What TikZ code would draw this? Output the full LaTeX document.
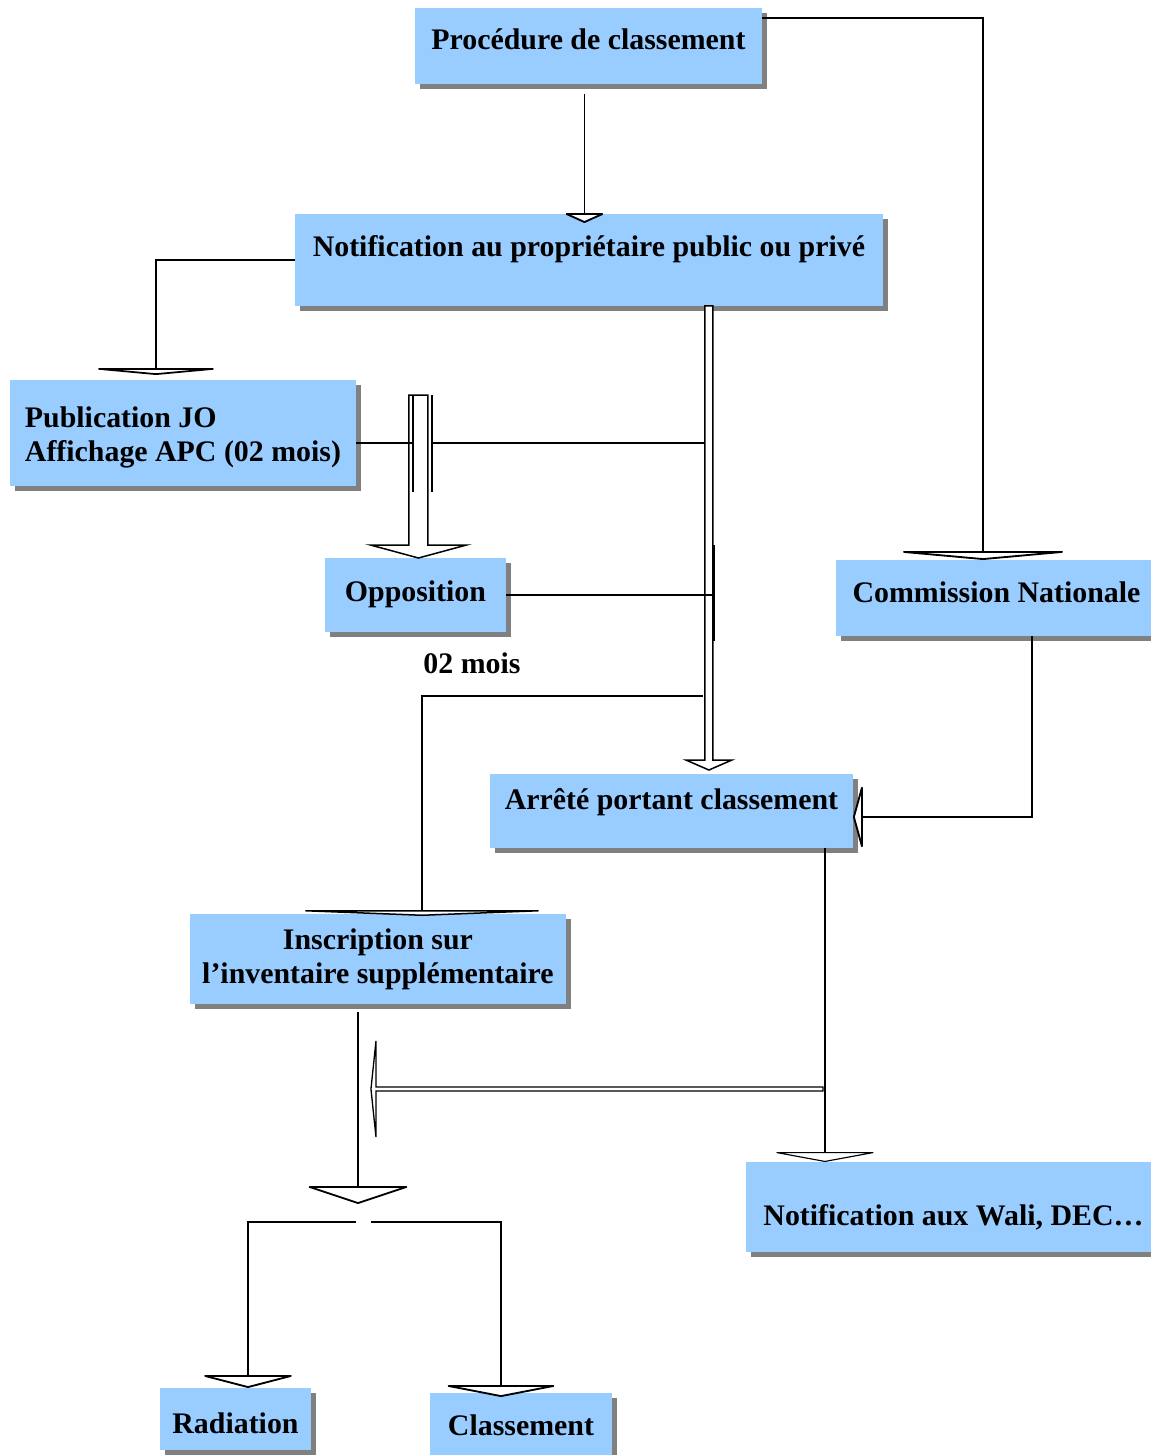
\documentclass[tikz,border=0pt]{standalone}
\usepackage{fontspec}
\setmainfont{Liberation Serif}
\usetikzlibrary{arrows.meta, calc, shadows}
\definecolor{boxblue}{RGB}{153, 204, 255}
\definecolor{shadowgray}{RGB}{128, 128, 128}
\newcommand{\boxfont}{\fontsize{17pt}{19.4pt}\selectfont\bfseries}
\tikzset{
  box/.style        = {rectangle, fill=boxblue, anchor=north west, inner xsep=4pt, inner ysep=0pt, outer sep=0pt, font=\boxfont, drop shadow={shadow xshift=0.1cm, shadow yshift=-0.1cm, fill=shadowgray, opacity=1}},
  lift/.style 2 args = {text height=#1, text depth=#2},
  note/.style       = {font=\boxfont, inner sep=0pt},
  conn/.style       = {line width=1.05pt, black},
  connthin/.style   = {line width=0.65pt, black},
  tri/.style 2 args = {-{Triangle[round, fill=white, width=#1, length=#2]}},
  hollow/.style     = {draw=black, line width=0.85pt, fill=white},
}

\begin{document}
\begin{tikzpicture}[x=0.02cm, y=-0.02cm]
  \useasboundingbox (0,0) rectangle (1151,1455);

  % boxes
  \node[box, minimum width=6.94cm, minimum height=1.52cm, lift={12pt}{7.6pt}] (proc) at (415,8) {Procédure de classement};
  \node[box, minimum width=11.76cm, minimum height=1.84cm, lift={12pt}{15.6pt}] (notif) at (295,214) {Notification au propriétaire public ou privé};
  \node[box, minimum width=6.92cm, minimum height=2.12cm, align=left] (pub) at (10,380) {\rule{0pt}{17pt}Publication JO\\Affichage APC (02 mois)};
  \node[box, minimum width=3.62cm, minimum height=1.48cm, lift={12pt}{4.2pt}] (oppo) at (325,558) {Opposition};
  \node[box, minimum width=6.42cm, minimum height=1.52cm, lift={12pt}{6.5pt}] (comm) at (836,560) {Commission Nationale};
  \node[box, minimum width=7.26cm, minimum height=1.48cm, lift={12pt}{13.3pt}] (arrete) at (490,774) {Arrêté portant classement};
  \node[box, minimum width=7.52cm, minimum height=1.8cm, align=center] (inscr) at (190,914) {Inscription sur\\l’inventaire supplémentaire};
  \node[box, minimum width=8.3cm, minimum height=1.8cm, lift={21.4pt}{0pt}] (wali) at (746,1162) {Notification aux Wali, DEC…};
  \node[box, minimum width=3.02cm, minimum height=1.24cm, lift={16.9pt}{0pt}] (rad) at (160,1388) {Radiation};
  \node[box, minimum width=3.64cm, minimum height=1.28cm, lift={12pt}{0pt}] (cls) at (430,1393) {Classement};
  \node[note] (delai) at (472,663) {02 mois};

  % helper points
  \coordinate (c1) at ($(proc.south)+(-4,10)$);
  \coordinate (s) at ([xshift=2.4cm]notif.south);
  \coordinate (sL) at ($(s)+(-4,0)$);
  \coordinate (sR) at ($(s)+(4,0)$);
  \coordinate (t) at ($(s |- arrete.north)+(0,-4)$);
  \coordinate (p) at ($(oppo.north |- pub.north)+(3,15)$);
  \coordinate (q) at ($(oppo.north)+(3,0)$);
  \coordinate (bl) at ($(p)+(-5.5,0)$);
  \coordinate (br) at ($(p)+(13.5,0)$);
  \coordinate (h) at ($(pub.east)+(0,10)$);
  \coordinate (k) at ($(s)+(-6,390)$);
  \coordinate (d) at ([xshift=3.07cm]arrete.south);
  \coordinate (j) at ($(d)+(-2,241)$);
  \coordinate (stem) at ([xshift=-0.4cm]inscr.south);
  \coordinate (fork) at ($(stem)+(0,200)$);
  \coordinate (m) at ($(j -| stem)+(13,0)$);

  % top part
  \draw[conn, tri={0.88cm}{0.2cm}, shorten >=-0.18cm] (c1) -- (c1 |- notif.north);
  \draw[conn, tri={3.98cm}{0.18cm}] ([yshift=-0.2cm]proc.north east) -| ([xshift=-0.27cm]comm.north);
  \draw[conn, tri={3.04cm}{0.14cm}, shorten >=0.1cm] (notif.west) -| ([xshift=-0.54cm]pub.north);

  % hollow arrow to the arrete
  \draw[hollow] (sL) -- ($(t)+(-4,-10)$) -- ($(t)+(-23,-10)$) -- (t) -- ($(t)+(23,-10)$) -- ($(t)+(4,-10)$) -- (sR) -- cycle;

  % hollow arrow to the opposition
  \draw[hollow] ($(p)+(-9.5,0)$) -- ($(q)+(-9.5,-13)$) -- ($(q)+(-48,-13)$) -- (q) -- ($(q)+(48,-13)$) -- ($(q)+(9.5,-13)$) -- ($(p)+(9.5,0)$) -- cycle;
  \draw[conn] (bl) -- ($(bl)+(0,97)$);
  \draw[conn] (br) -- ($(br)+(0,97)$);
  \draw[conn] (h) -- (h -| bl);
  \draw[conn] (h -| br) -- (h -| sL);

  \draw[conn] (oppo.east) -- (oppo.east -| sR);
  \draw[line width=1.4pt] ($(oppo.east -| sR)+(1,-50)$) -- ($(oppo.east -| sR)+(1,46)$);

  \draw[conn, tri={6.2cm}{0.12cm}, shorten >=-0.04cm] (k) -| ([xshift=0.88cm]inscr.north);
  \draw[conn, tri={1.44cm}{0.2cm}] ([xshift=0.71cm]comm.south) |- ([yshift=-0.12cm]arrete.east);

  % lower part
  \draw[connthin, tri={2.17cm}{0.2cm}] (d) -- (d |- wali.north);
  \draw[hollow, line width=0.75pt] ($(j)+(0,-2)$) -- ($(m)+(5,-2)$) -- ($(m)+(5,-48)$) -- (m) -- ($(m)+(5,48)$) -- ($(m)+(5,2)$) -- ($(j)+(0,2)$) -- cycle;

  \draw[conn, tri={2.16cm}{0.36cm}] ($(stem)+(0,8)$) -- (fork);
  \draw[conn, tri={2.0cm}{0.26cm}] ($(fork)+(-2,18)$) -| ([xshift=0.25cm]rad.north);
  \draw[conn, tri={2.48cm}{0.24cm}, shorten >=-0.08cm] ($(fork)+(13,18)$) -| ([xshift=-0.4cm]cls.north);
\end{tikzpicture}
\end{document}
